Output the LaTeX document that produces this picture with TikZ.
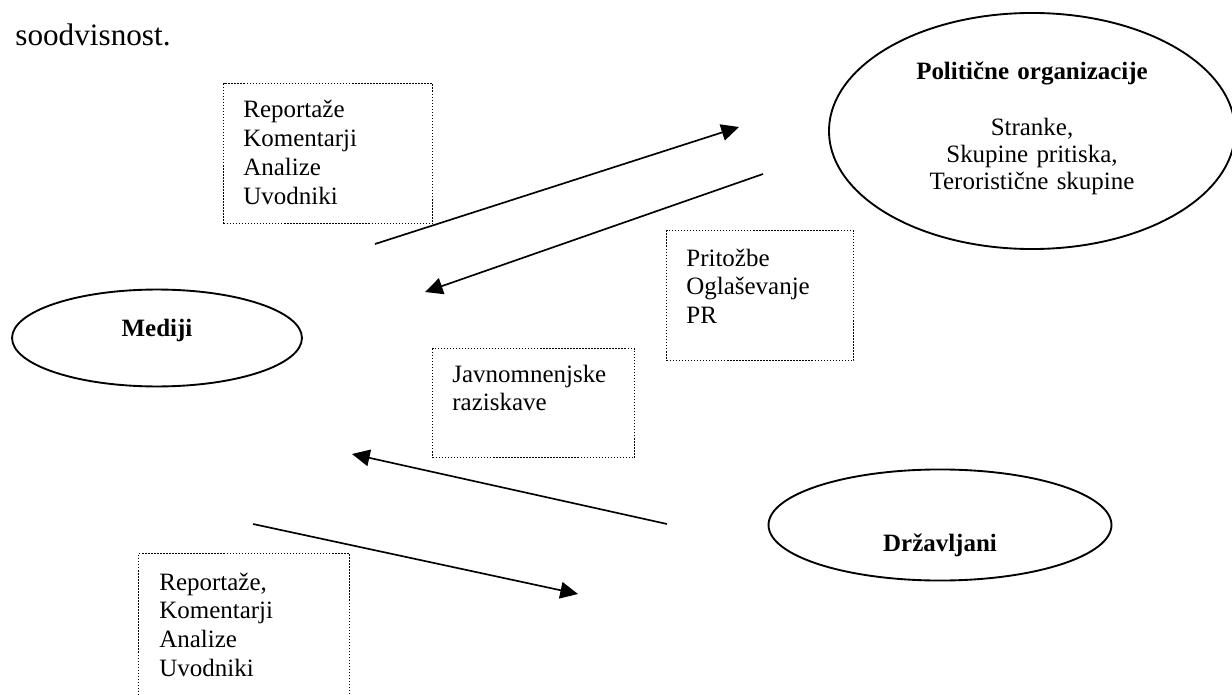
\documentclass[tikz,border=0pt]{standalone}
\usepackage{fontspec}
\setmainfont{Liberation Serif}
\usetikzlibrary{arrows.meta,shapes.geometric}

\begin{document}
\begin{tikzpicture}[x=0.4808pt, y=-0.4808pt, >={Triangle[length=8.5pt,width=8pt]},
	font=\fontsize{12}{13.9}\selectfont,
	actor/.style={draw, ellipse, line width=0.9pt, inner sep=0pt},
	note/.style={draw, line width=0.7pt, dash pattern=on 0.7pt off 0.75pt, inner sep=0pt, anchor=north west},
	notetext/.style={anchor=base west, align=left, text width=4cm, inner sep=0pt},
	flow/.style={->, line width=0.8pt}]
	\useasboundingbox (0,0) rectangle (1232,695);

	% Lead-in text
	\node [anchor=base west, inner sep=0pt, font=\fontsize{15}{17}\selectfont] (lead) at (15,46) {soodvisnost.};

	% Actors {pol, med, drz}
	\node [actor, minimum width=195.2pt, minimum height=113.5pt] (pol) at (1032,131) {};
	\node [actor, minimum width=139.4pt, minimum height=46.6pt]  (med) at (157,338)  {};
	\node [actor, minimum width=164.9pt, minimum height=53.4pt]  (drz) at (940,525)  {};

	\node [anchor=base, align=center, text width=8cm, inner sep=0pt, font=\fontsize{12}{13}\selectfont] (polt) at (1032,80)
		{\textbf{Politične organizacije}\\[13.5pt]Stranke,\\Skupine pritiska,\\Teroristične skupine};
	\node [anchor=base, inner sep=0pt] (medt) at (157,336) {\textbf{Mediji}};
	\node [anchor=base, inner sep=0pt] (drzt) at (940,551) {\textbf{Državljani}};

	% Notes
	\node [note, minimum width=100.5pt, minimum height=67.3pt] (n1) at (223,83)  {};
	\node [note, minimum width=89.9pt,  minimum height=62.5pt] (n2) at (666,230) {};
	\node [note, minimum width=97.1pt,  minimum height=52.4pt] (n3) at (432,348) {};
	\node [note, minimum width=101.4pt, minimum height=72.1pt] (n4) at (138,553) {};

	\node [notetext] (n1t) at (243,118) {Reportaže\\Komentarji\\Analize\\Uvodniki};
	\node [notetext] (n2t) at (686,266) {Pritožbe\\Oglaševanje\\PR};
	\node [notetext] (n3t) at (452,382) {Javnomnenjske\\raziskave};
	\node [notetext] (n4t) at (159,590) {Reportaže,\\Komentarji\\Analize\\Uvodniki};

	% Flow ends
	\coordinate (mp1) at (375,244);
	\coordinate (mp2) at (739,127);
	\coordinate (pm1) at (763,174);
	\coordinate (pm2) at (425,292);
	\coordinate (dm1) at (667,524);
	\coordinate (dm2) at (352,454);
	\coordinate (md1) at (253,524);
	\coordinate (md2) at (578,594);

	% Flows
	\draw [flow] (mp1) -- (mp2);
	\draw [flow] (pm1) -- (pm2);
	\draw [flow] (dm1) -- (dm2);
	\draw [flow] (md1) -- (md2);
\end{tikzpicture}
\end{document}
